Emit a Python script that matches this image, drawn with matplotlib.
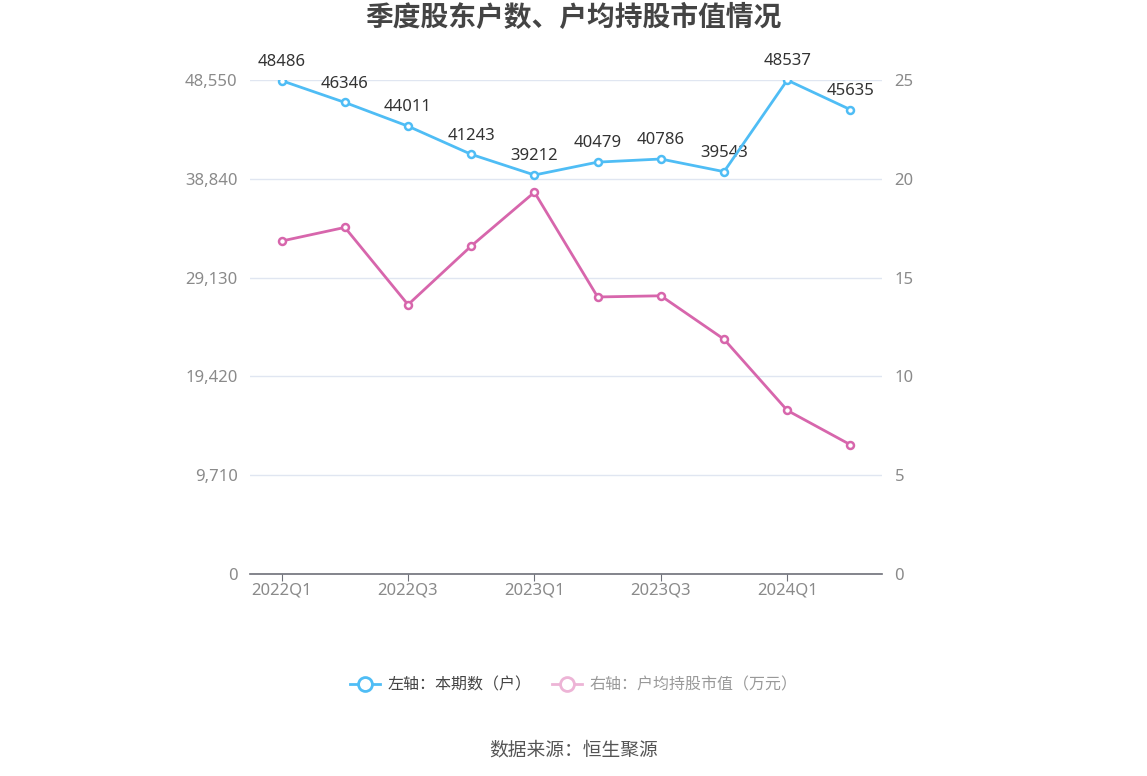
import matplotlib.pyplot as plt
from matplotlib.lines import Line2D

plt.rcParams['font.family'] = ['Noto Sans', 'Noto Sans CJK SC', 'DejaVu Sans']

# -----------------------------
# Données
# -----------------------------
trimestres = ["2022Q1", "2022Q2", "2022Q3", "2022Q4", "2023Q1",
              "2023Q2", "2023Q3", "2023Q4", "2024Q1", "2024Q2"]
nb_actionnaires = [48486, 46346, 44011, 41243, 39212,
                   40479, 40786, 39543, 48537, 45635]
valeur_moyenne = [16.85, 17.54, 13.63, 16.60, 19.32,
                  14.02, 14.08, 11.88, 8.28, 6.54]
ticks_gauche = [0, 9710, 19420, 29130, 38840, 48550]
ticks_droite = [0, 5, 10, 15, 20, 25]

bleu = "#4FBDF5"
rose = "#D766AC"
gris = "#8A8A8A"
cjk = ['Noto Sans CJK SC', 'DejaVu Sans']

fig = plt.figure(figsize=(11.47, 7.76), dpi=100)
ax = fig.add_axes([0.218, 0.2603, 0.551, 0.6366])
ax2 = ax.twinx()

x = list(range(len(trimestres)))

ax.plot(x, nb_actionnaires, color=bleu, lw=2, marker="o", ms=5,
        mfc="white", mec=bleu, mew=1.8, zorder=5)
ax2.plot(x, valeur_moyenne, color=rose, lw=2, marker="o", ms=5,
         mfc="white", mec=rose, mew=1.8, zorder=5)

for xi, v in zip(x, nb_actionnaires):
    ax.annotate(str(v), (xi, v), xytext=(0, 13.5), textcoords="offset points",
                ha="center", va="center", fontsize=12, color="#333333")

ax.set_xlim(-0.5, len(trimestres) - 0.5)
ax.set_ylim(0, 48550)
ax2.set_ylim(0, 25)
ax.set_yticks(ticks_gauche)
ax.set_yticklabels([f"{t:,}" for t in ticks_gauche])
ax2.set_yticks(ticks_droite)

ax.set_xticks(x[::2])
ax.set_xticklabels(trimestres[::2])

ax.grid(axis="y", color="#E0E6F1", lw=1)
ax.set_axisbelow(True)
for a in (ax, ax2):
    for s in ["top", "left", "right", "bottom"]:
        a.spines[s].set_visible(False)
ax.spines["bottom"].set_visible(True)
ax.spines["bottom"].set_color("#6E7079")
ax.spines["bottom"].set_linewidth(1.2)

ax.tick_params(axis="y", length=0, labelsize=12, labelcolor=gris, pad=9)
ax2.tick_params(axis="y", length=0, labelsize=12, labelcolor=gris, pad=9)
ax.tick_params(axis="x", length=5, color="#6E7079", labelsize=12,
               labelcolor=gris, pad=1)

fig.text(0.5, 0.977, "季度股东户数、户均持股市值情况", ha="center", va="center",
         fontsize=20, fontweight="bold", color="#444444", family=cjk)

poignees = [
    Line2D([], [], color=bleu, lw=2, marker="o", ms=10, mfc="white",
           mec=bleu, mew=2),
    Line2D([], [], color="#EDB4D6", lw=2, marker="o", ms=10, mfc="white",
           mec="#EDB4D6", mew=2),
]
leg = fig.legend(poignees, ["左轴：本期数（户）", "右轴：户均持股市值（万元）"],
                 loc="center", bbox_to_anchor=(0.5, 0.117), ncol=2,
                 frameon=False, prop={'family': cjk, 'size': 11.5},
                 handlelength=1.9, columnspacing=1.3, handletextpad=0.45)
leg.get_texts()[0].set_color("#444444")
leg.get_texts()[1].set_color("#999999")

fig.text(0.5, 0.033, "数据来源：恒生聚源", ha="center", va="center",
         fontsize=13.5, color="#555555", family=cjk)

plt.savefig("out.png", dpi=100)
